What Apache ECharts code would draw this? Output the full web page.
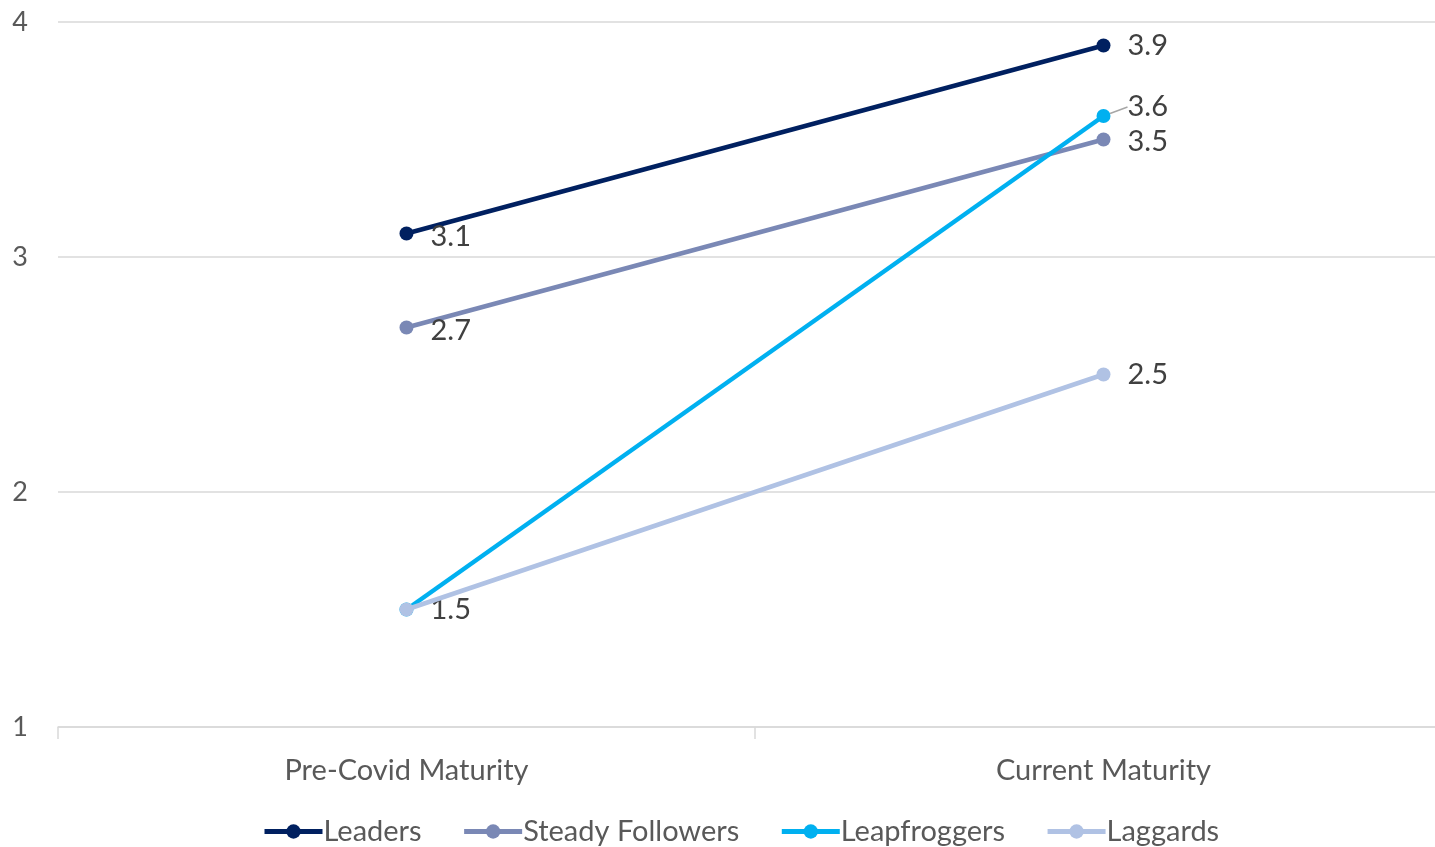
<!DOCTYPE html>
<html>
<head>
<meta charset="utf-8">
<script src="https://cdn.jsdelivr.net/npm/echarts@6/dist/echarts.min.js"></script>
<style>
    html, body { margin: 0; padding: 0; background: #fff; overflow: hidden; }
    /* the plot runs a bit past the right edge of the page, as in the original */
    #chart { width: 1452px; height: 847px; }
</style>
</head>
<body>
<div id="chart"></div>
<script>
    const categories = ['Pre-Covid Maturity', 'Current Maturity'];
    const seriesNames = ['Leaders', 'Steady Followers', 'Leapfroggers', 'Laggards'];
    const leaders = [3.1, 3.9];
    const steadyFollowers = [2.7, 3.5];
    const leapfroggers = [1.5, 3.6];
    const laggards = [1.5, 2.5];
    const yTicks = [1, 2, 3, 4];

    const colors = ['#002060', '#7A88B5', '#00B0F0', '#B0C2E4'];
    const font = 'Lato, "Open Sans", sans-serif';
    const textColor = '#595959';

    // label nudges per series / point: [left point, right point]
    const labelDy = [[3, 0], [3, 2], [3, 0], [3, 0]];
    // the Laggards 1.5 label sits under the Leapfroggers one, show only one
    const labelShow = [[true, true], [true, true], [true, true], [false, true]];

    const values = [leaders, steadyFollowers, leapfroggers, laggards];

    const chart = echarts.init(document.getElementById('chart'), null, {renderer: 'canvas'});

    const series = seriesNames.map((name, i) => ({
        name: name,
        type: 'line',
        data: values[i].map((v, j) => ({
            value: v,
            label: {show: labelShow[i][j], offset: [0, labelDy[i][j]]}
        })),
        symbol: 'circle',
        symbolSize: 14,
        color: colors[i],
        lineStyle: {width: 4.5, color: colors[i]},
        label: {
            show: true,
            position: 'right',
            distance: 17,
            fontFamily: font,
            fontSize: 29,
            color: '#404040'
        },
        labelLine: {show: false},
        z: 2 + i,
        animation: false
    }));

    // 3.6 is lifted off its point and gets a small leader line
    series[2].labelLayout = (p) => p.dataIndex === 1 ? {dy: -9} : {};
    series[2].data[1].labelLine = {show: true, length2: 0, lineStyle: {color: '#a6a6a6', width: 1.5}};

    chart.setOption({
        backgroundColor: '#fff',
        grid: {left: 58, top: 22, right: 0, bottom: 120},
        legend: {
            top: 817,
            left: 262,
            padding: 0,
            itemWidth: 58,
            itemHeight: 18,
            itemGap: 40,
            lineStyle: {width: 5},
            textStyle: {fontFamily: font, fontSize: 29, color: textColor, padding: [0, 0, 0, -4]},
            data: seriesNames
        },
        xAxis: {
            type: 'category',
            data: categories,
            boundaryGap: true,
            axisLine: {lineStyle: {color: '#d9d9d9', width: 1.5}},
            axisTick: {show: true, length: 12, lineStyle: {color: '#d9d9d9', width: 1.5}},
            axisLabel: {fontFamily: font, fontSize: 29, color: textColor, margin: 29}
        },
        yAxis: {
            type: 'value',
            min: yTicks[0],
            max: yTicks[yTicks.length - 1],
            interval: 1,
            axisLine: {show: false},
            axisTick: {show: false},
            axisLabel: {fontFamily: font, fontSize: 27, color: textColor, margin: 30},
            splitLine: {lineStyle: {color: '#d9d9d9', width: 1.5}}
        },
        series: series
    });
</script>
</body>
</html>
